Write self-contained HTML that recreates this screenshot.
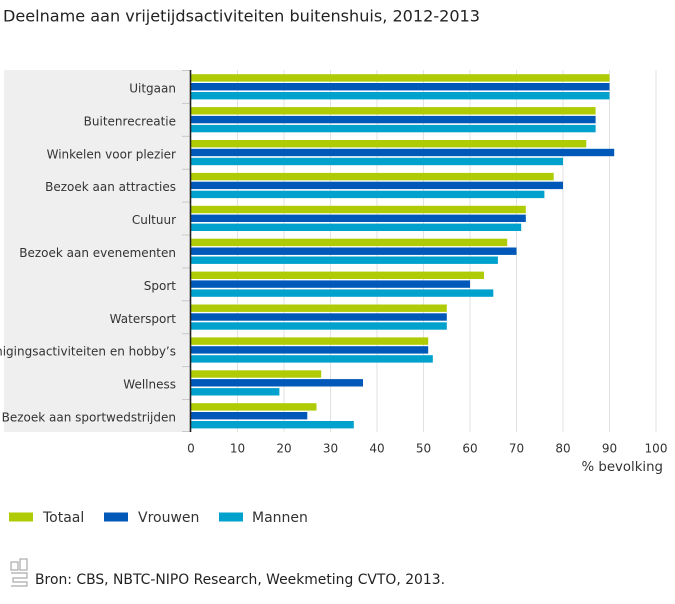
<!DOCTYPE html>
<html><head><meta charset="utf-8"><style>
html,body{margin:0;padding:0;background:#fff;}
svg{display:block;font-family:"DejaVu Sans","Liberation Sans",sans-serif;}
</style></head><body>
<svg width="675" height="604" viewBox="0 0 675 604" xmlns="http://www.w3.org/2000/svg">
<text x="3" y="21.5" font-size="16" fill="#222" textLength="477" lengthAdjust="spacingAndGlyphs">Deelname aan vrijetijdsactiviteiten buitenshuis, 2012-2013</text>
<rect x="4" y="70" width="186" height="362" fill="#efefef"/>
<g stroke="#e2e2e2" stroke-width="1">
<line x1="237.5" y1="70" x2="237.5" y2="432"/>
<line x1="284" y1="70" x2="284" y2="432"/>
<line x1="330.5" y1="70" x2="330.5" y2="432"/>
<line x1="377" y1="70" x2="377" y2="432"/>
<line x1="423.5" y1="70" x2="423.5" y2="432"/>
<line x1="470" y1="70" x2="470" y2="432"/>
<line x1="516.5" y1="70" x2="516.5" y2="432"/>
<line x1="563" y1="70" x2="563" y2="432"/>
<line x1="609.5" y1="70" x2="609.5" y2="432"/>
<line x1="656" y1="70" x2="656" y2="432"/>
</g>
<g stroke="#c8c8c8" stroke-width="1">
<line x1="182" y1="70.5" x2="190" y2="70.5"/>
<line x1="182" y1="103.4" x2="190" y2="103.4"/>
<line x1="182" y1="136.3" x2="190" y2="136.3"/>
<line x1="182" y1="169.2" x2="190" y2="169.2"/>
<line x1="182" y1="202.1" x2="190" y2="202.1"/>
<line x1="182" y1="235" x2="190" y2="235"/>
<line x1="182" y1="267.9" x2="190" y2="267.9"/>
<line x1="182" y1="300.8" x2="190" y2="300.8"/>
<line x1="182" y1="333.7" x2="190" y2="333.7"/>
<line x1="182" y1="366.6" x2="190" y2="366.6"/>
<line x1="182" y1="399.5" x2="190" y2="399.5"/>
<line x1="182" y1="431.5" x2="190" y2="431.5"/>
</g>
<g id="bars">
<rect x="191" y="74.2" width="418.5" height="7.4" fill="#afcb05"/>
<rect x="191" y="83" width="418.5" height="7.4" fill="#0058b8"/>
<rect x="191" y="92" width="418.5" height="7.4" fill="#00a1cd"/>
<rect x="191" y="107.1" width="404.6" height="7.4" fill="#afcb05"/>
<rect x="191" y="115.9" width="404.6" height="7.4" fill="#0058b8"/>
<rect x="191" y="124.9" width="404.6" height="7.4" fill="#00a1cd"/>
<rect x="191" y="140" width="395.3" height="7.4" fill="#afcb05"/>
<rect x="191" y="148.8" width="423.2" height="7.4" fill="#0058b8"/>
<rect x="191" y="157.8" width="372" height="7.4" fill="#00a1cd"/>
<rect x="191" y="172.9" width="362.7" height="7.4" fill="#afcb05"/>
<rect x="191" y="181.7" width="372" height="7.4" fill="#0058b8"/>
<rect x="191" y="190.7" width="353.4" height="7.4" fill="#00a1cd"/>
<rect x="191" y="205.8" width="334.8" height="7.4" fill="#afcb05"/>
<rect x="191" y="214.6" width="334.8" height="7.4" fill="#0058b8"/>
<rect x="191" y="223.6" width="330.2" height="7.4" fill="#00a1cd"/>
<rect x="191" y="238.7" width="316.2" height="7.4" fill="#afcb05"/>
<rect x="191" y="247.5" width="325.5" height="7.4" fill="#0058b8"/>
<rect x="191" y="256.5" width="306.9" height="7.4" fill="#00a1cd"/>
<rect x="191" y="271.6" width="293" height="7.4" fill="#afcb05"/>
<rect x="191" y="280.4" width="279" height="7.4" fill="#0058b8"/>
<rect x="191" y="289.4" width="302.3" height="7.4" fill="#00a1cd"/>
<rect x="191" y="304.5" width="255.8" height="7.4" fill="#afcb05"/>
<rect x="191" y="313.3" width="255.8" height="7.4" fill="#0058b8"/>
<rect x="191" y="322.3" width="255.8" height="7.4" fill="#00a1cd"/>
<rect x="191" y="337.4" width="237.2" height="7.4" fill="#afcb05"/>
<rect x="191" y="346.2" width="237.2" height="7.4" fill="#0058b8"/>
<rect x="191" y="355.2" width="241.8" height="7.4" fill="#00a1cd"/>
<rect x="191" y="370.3" width="130.2" height="7.4" fill="#afcb05"/>
<rect x="191" y="379.1" width="172" height="7.4" fill="#0058b8"/>
<rect x="191" y="388.1" width="88.4" height="7.4" fill="#00a1cd"/>
<rect x="191" y="403.2" width="125.5" height="7.4" fill="#afcb05"/>
<rect x="191" y="412" width="116.3" height="7.4" fill="#0058b8"/>
<rect x="191" y="421" width="162.8" height="7.4" fill="#00a1cd"/>
</g>
<line x1="190.5" y1="70" x2="190.5" y2="432" stroke="#222" stroke-width="1.6"/>
<g font-size="12" fill="#333" text-anchor="end">
<text x="176" y="92.5">Uitgaan</text>
<text x="176" y="125.4">Buitenrecreatie</text>
<text x="176" y="158.3">Winkelen voor plezier</text>
<text x="176" y="191.2">Bezoek aan attracties</text>
<text x="176" y="224.1">Cultuur</text>
<text x="176" y="257">Bezoek aan evenementen</text>
<text x="176" y="289.9">Sport</text>
<text x="176" y="322.8">Watersport</text>
<text x="176" y="355.7">Verenigingsactiviteiten en hobby’s</text>
<text x="176" y="388.6">Wellness</text>
<text x="176" y="421.5">Bezoek aan sportwedstrijden</text>
</g>
<g font-size="12" fill="#333" text-anchor="middle">
<text x="191" y="452.5">0</text>
<text x="237.5" y="452.5">10</text>
<text x="284" y="452.5">20</text>
<text x="330.5" y="452.5">30</text>
<text x="377" y="452.5">40</text>
<text x="423.5" y="452.5">50</text>
<text x="470" y="452.5">60</text>
<text x="516.5" y="452.5">70</text>
<text x="563" y="452.5">80</text>
<text x="609.5" y="452.5">90</text>
<text x="656" y="452.5">100</text>
</g>
<text x="663" y="471" font-size="13.3" fill="#333" text-anchor="end">% bevolking</text>
<rect x="9" y="512.5" width="24" height="9" fill="#afcb05"/>
<text x="43" y="522" font-size="14" fill="#333">Totaal</text>
<rect x="104" y="512.5" width="24" height="9" fill="#0058b8"/>
<text x="138" y="522" font-size="14" fill="#333">Vrouwen</text>
<rect x="219" y="512.5" width="24" height="9" fill="#00a1cd"/>
<text x="252" y="522" font-size="14" fill="#333">Mannen</text>
<g fill="none" stroke="#aaa" stroke-width="1.2">
<rect x="11" y="562" width="7" height="8"/>
<rect x="20" y="559" width="7" height="11"/>
<path d="M11 573 H27 V578 H13 V582 H27 V586 H11"/>
</g>
<text x="35" y="584" font-size="14" fill="#222" textLength="410" lengthAdjust="spacingAndGlyphs">Bron: CBS, NBTC-NIPO Research, Weekmeting CVTO, 2013.</text>
</svg>
</body></html>
